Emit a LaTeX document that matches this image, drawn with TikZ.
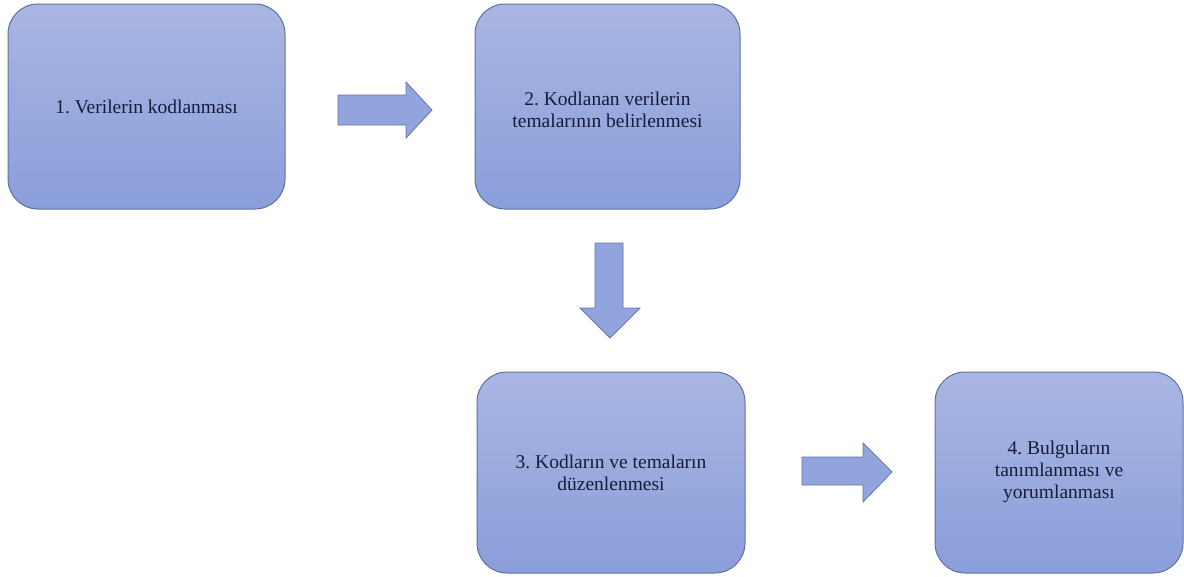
\documentclass[tikz,border=0pt]{standalone}
\usepackage{fontspec}
\setmainfont{Liberation Serif}
\frenchspacing
\definecolor{boxtop}{RGB}{170,182,226}
\definecolor{boxbot}{RGB}{138,158,218}
\definecolor{boxline}{RGB}{96,112,158}
\definecolor{txt}{RGB}{22,28,58}
\definecolor{arrfill}{RGB}{146,164,222}
\definecolor{arrline}{RGB}{100,118,170}
\begin{document}
\begin{tikzpicture}[x=1pt,y=-1pt,
  stepbox/.style={draw=boxline,line width=1pt,rounded corners=30pt,
    top color=boxtop,bottom color=boxbot,shading angle=0},
  steptext/.style={align=center,text=txt,font=\fontsize{19.5}{22}\selectfont},
  blockarrow/.style={draw=arrline,line width=0.8pt,fill=arrfill,line join=miter}]
\useasboundingbox (0,0) rectangle (1184,576);
\path[stepbox] (8,4) rectangle (285,209);
\node[steptext] (b1) at (146.5,107) {1. Verilerin kodlanması};
\path[stepbox] (475,4) rectangle (740,209);
\node[steptext] (b2) at (607.5,110) {2. Kodlanan verilerin\\temalarının belirlenmesi};
\path[stepbox] (477,372) rectangle (745,573);
\node[steptext] (b3) at (611,473) {3. Kodların ve temaların\\düzenlenmesi};
\path[stepbox] (935,372) rectangle (1183,573);
\node[steptext] (b4) at (1059,472) {4. Bulguların\\tanımlanması ve\\yorumlanması};
% block arrows
\coordinate (a1) at (432,110);
\draw[blockarrow] (a1) -- ++(-26,-28) -- ++(0,13) -- ++(-68,0) -- ++(0,30) -- ++(68,0) -- ++(0,13) -- cycle;
\coordinate (a2) at (610,338);
\draw[blockarrow] (a2) -- ++(-30,-30) -- ++(15,0) -- ++(0,-65) -- ++(28,0) -- ++(0,65) -- ++(17,0) -- cycle;
\coordinate (a3) at (892,472);
\draw[blockarrow] (a3) -- ++(-29,-29) -- ++(0,14) -- ++(-61,0) -- ++(0,28) -- ++(61,0) -- ++(0,17) -- cycle;
\end{tikzpicture}
\end{document}
